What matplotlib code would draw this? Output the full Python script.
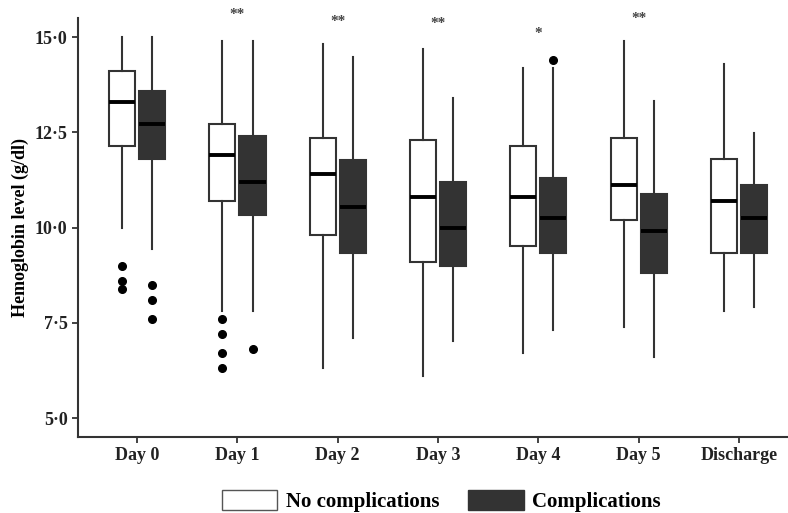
import matplotlib
matplotlib.use("Agg")
import matplotlib.pyplot as plt
from matplotlib.patches import Patch

plt.rcParams['font.family'] = ['Liberation Serif', 'DejaVu Serif']
plt.rcParams['font.weight'] = 'bold'
plt.rcParams['axes.labelweight'] = 'bold'

days = ["Day 0", "Day 1", "Day 2", "Day 3", "Day 4", "Day 5", "Discharge"]

# five-number summaries: (low whisker, q1, median, q3, high whisker)
no_comp = [
    (10.0, 12.14, 13.30, 14.11, 15.0),
    (7.81, 10.70, 11.90, 12.72, 14.90),
    (6.30, 9.80, 11.40, 12.34, 14.81),
    (6.11, 9.09, 10.80, 12.29, 14.69),
    (6.71, 9.51, 10.80, 12.15, 14.19),
    (7.40, 10.20, 11.11, 12.36, 14.90),
    (7.81, 9.32, 10.70, 11.81, 14.30),
]
comp = [
    (9.43, 11.79, 12.71, 13.59, 15.0),
    (7.81, 10.33, 11.20, 12.40, 14.90),
    (7.11, 9.33, 10.55, 11.77, 14.48),
    (7.03, 8.99, 9.99, 11.20, 13.40),
    (7.31, 9.32, 10.24, 11.29, 14.18),
    (6.61, 8.80, 9.90, 10.87, 13.31),
    (7.91, 9.32, 10.24, 11.12, 12.47),
]
no_comp_out = [[9.0, 8.6, 8.39], [7.6, 7.2, 6.7, 6.3], [], [], [], [], []]
comp_out = [[8.5, 8.1, 7.6], [6.8], [], [], [14.4], [], []]

stars = ["", "**", "**", "**", "*", "**", ""]
star_y = [0, 15.60, 15.40, 15.35, 15.08, 15.48, 0]

yticks = [5.0, 7.5, 10.0, 12.5, 15.0]
ytick_labels = ["5\u00b70", "7\u00b75", "10\u00b70", "12\u00b75", "15\u00b70"]


def to_stats(summaries, outliers):
    out = []
    for (lo, q1, med, q3, hi), fl in zip(summaries, outliers):
        out.append(dict(whislo=lo, q1=q1, med=med, q3=q3, whishi=hi, fliers=fl))
    return out


fig = plt.figure(figsize=(7.88, 5.13), dpi=100)
ax = fig.add_axes([0.099, 0.148, 0.901, 0.817])

edge = "#333333"
pos = list(range(1, len(days) + 1))
common = dict(widths=0.26, patch_artist=True, showcaps=False,
              whiskerprops=dict(color=edge, linewidth=1.5),
              medianprops=dict(color="black", linewidth=2.8),
              flierprops=dict(marker="o", markerfacecolor="black",
                              markeredgecolor="black", markersize=5.5))

ax.bxp(to_stats(no_comp, no_comp_out), positions=[p - 0.15 for p in pos],
       boxprops=dict(facecolor="white", edgecolor=edge, linewidth=1.5), **common)
ax.bxp(to_stats(comp, comp_out), positions=[p + 0.15 for p in pos],
       boxprops=dict(facecolor="#333333", edgecolor=edge, linewidth=1.5), **common)

for p, s, y in zip(pos, stars, star_y):
    if s:
        ax.text(p, y, s, ha="center", va="center", fontsize=11,
                fontweight="bold", color="#444444", clip_on=False)

ax.set_xlim(0.41, 7.49)
ax.set_ylim(4.5, 15.5)
ax.set_xticks(pos)
ax.set_xticklabels(days)
ax.set_yticks(yticks)
ax.set_yticklabels(ytick_labels)
ax.tick_params(labelsize=13, colors="#222222", length=4, width=1.2)
ax.set_ylabel("Hemoglobin level (g/dl)", fontsize=13, fontweight="bold", labelpad=4)

for side in ["top", "right"]:
    ax.spines[side].set_visible(False)
for side in ["left", "bottom"]:
    ax.spines[side].set_color("#333333")
    ax.spines[side].set_linewidth(1.5)

handles = [Patch(facecolor="white", edgecolor="#555555", linewidth=1),
           Patch(facecolor="#333333", edgecolor="#333333", linewidth=1)]
fig.legend(handles, ["No complications", "Complications"], ncol=2,
           loc="upper center", bbox_to_anchor=(0.56, 0.045), frameon=False,
           fontsize=15, handlelength=2.65, handleheight=1.1,
           handletextpad=0.4, columnspacing=1.4, borderpad=0, borderaxespad=0)

fig.savefig("out.png", dpi=100)
